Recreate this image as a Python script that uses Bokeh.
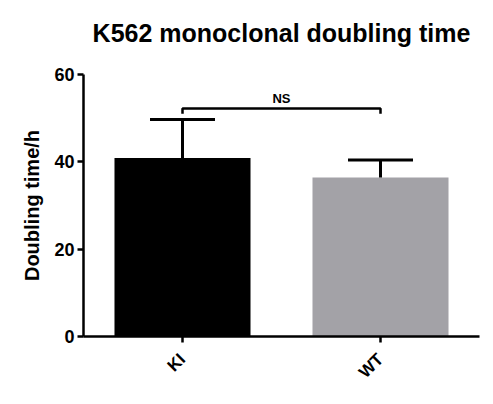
import math
from bokeh.plotting import figure
from bokeh.models import (ColumnDataSource, FactorRange, Range1d, FixedTicker,
                          Whisker, TeeHead, Title)
from bokeh.transform import dodge
from bokeh.core.properties import value
from bokeh.embed import file_html
from bokeh.resources import INLINE

# ---- data ----
categories = ["KI", "WT"]
means = [40.9, 36.4]
sems = [8.8, 4.0]
bar_colors = ["#000000", "#A3A2A7"]
y_ticks = [0, 20, 40, 60]
bracket_pair = ["KI", "WT"]
bracket_top = 52.2
bracket_drop = 51.0
sig_label = "NS"
title_text = "K562 monoclonal doubling time"

FONT = "Liberation Sans"

src = ColumnDataSource(dict(
    cat=categories,
    mean=means,
    upper=[m + s for m, s in zip(means, sems)],
    color=bar_colors,
))

p = figure(width=485, height=396, output_backend="svg", toolbar_location=None,
           x_range=FactorRange(factors=categories, range_padding=0),
           y_range=Range1d(0, 60),
           min_border_left=83, min_border_right=6, min_border_top=74,
           min_border_bottom=60)

p.title = Title(text=title_text, align="center",
                text_font=FONT, text_font_size="25px", text_font_style="bold",
                text_color="#000000")
# blank spacer between title and plot area (lifts the title)
spacer = Title(text=" ", text_font_size="9.5px", text_color="white")
p.above = [spacer] + list(p.above)

p.vbar(x="cat", top="mean", bottom=0, width=0.687, color="color",
       line_color=None, source=src)

w = Whisker(base="cat", lower="mean", upper="upper", source=src,
            line_width=3, line_color="black",
            upper_head=TeeHead(size=65, line_width=3, line_color="black"),
            lower_head=None, level="overlay")
p.add_layout(w)

# significance bracket
p.line(x=[bracket_pair[0], bracket_pair[0], bracket_pair[1], bracket_pair[1]],
       y=[bracket_drop, bracket_top, bracket_top, bracket_drop],
       line_width=2.5, line_color="black")
p.text(x=dodge("x", 0.5, range=p.x_range), y="y",
       source=ColumnDataSource(dict(x=[bracket_pair[0]], y=[bracket_top], t=[sig_label])),
       text="t", text_font=value(FONT), text_font_size="13px",
       text_font_style="bold", text_align="center", text_baseline="bottom",
       y_offset=-3, text_color="black")

# axes styling
p.xgrid.visible = False
p.ygrid.visible = False
p.outline_line_color = None
p.background_fill_color = "white"
p.border_fill_color = "white"

p.yaxis.ticker = FixedTicker(ticks=y_ticks)
p.yaxis.axis_label = "Doubling time/h"
for ax in (p.xaxis[0], p.yaxis[0]):
    ax.axis_line_width = 2.5
    ax.axis_line_color = "black"
    ax.major_tick_line_width = 2.5
    ax.major_tick_line_color = "black"
    ax.major_tick_out = 6
    ax.major_tick_in = 0
    ax.minor_tick_line_color = None
    ax.major_label_text_font = FONT
    ax.major_label_text_font_style = "bold"
    ax.major_label_text_color = "black"

p.yaxis.major_label_text_font_size = "18px"
p.yaxis.major_label_standoff = 3
p.yaxis.axis_label_text_font = FONT
p.yaxis.axis_label_text_font_size = "20px"
p.yaxis.axis_label_text_font_style = "bold"
p.yaxis.axis_label_text_color = "black"
p.yaxis.axis_label_standoff = 8

p.xaxis.major_label_text_font_size = "17px"
p.xaxis.major_label_orientation = math.pi / 4
p.xaxis.major_label_standoff = 14

open("out.html", "w").write(file_html(p, INLINE))
